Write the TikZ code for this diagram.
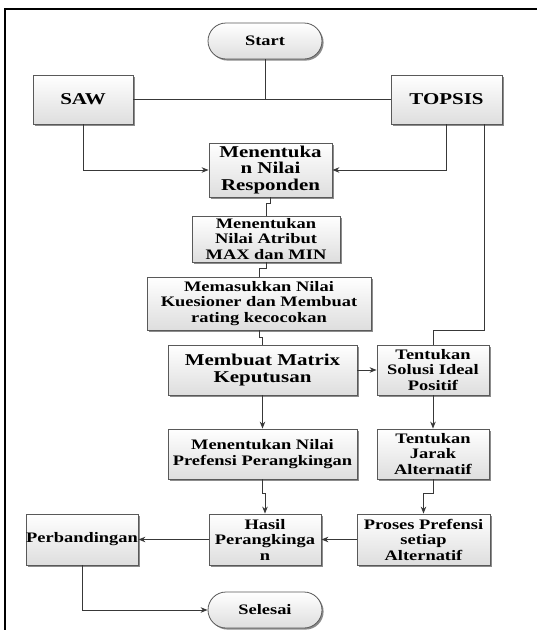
\documentclass[tikz,border=0pt]{standalone}
\usepackage{fontspec}
\setmainfont{Liberation Serif}[FakeStretch=1.27]
\usepackage{tikz}
\usetikzlibrary{positioning,shapes,shadows,arrows.meta}

\newcommand{\smalltxt}{\fontsize{14.5}{15.5}\selectfont\bfseries}
\newcommand{\bigtxt}{\fontsize{16.5}{16.5}\selectfont\bfseries}

\begin{document}
\begin{tikzpicture}[x=1pt,y=-1pt]
\tikzstyle{every node}+=[inner sep=0pt, align=center, font=\smalltxt]
\tikzstyle{box}=[draw=black!65, line width=0.8pt, top color=white, bottom color=black!13, drop shadow={shadow xshift=1.6pt,shadow yshift=-1.6pt,fill=black!45,opacity=1}]
\tikzstyle{term}=[box, rounded rectangle, minimum width=114pt, minimum height=36pt]
\tikzstyle{line}=[draw=black!78, line width=1pt]
\tikzstyle{arr}=[line, -{Stealth[length=7pt,width=5.5pt]}]
\useasboundingbox (0,0) rectangle (537,630);
\draw [line width=1.6pt] (5,630) -- (5,9) -- (537,9);
% terminals
\node [term] (start) at (265,41) {Start};
\node [term] (selesai) at (265,610) {Selesai};
% methods
\node [box, font=\bigtxt, minimum width=100pt, minimum height=49pt] (saw) at (83,99.5) {SAW};
\node [box, font=\bigtxt, minimum width=111pt, minimum height=49pt] (topsis) at (446.5,99.5) {TOPSIS};
% SAW column
\node [box, font=\bigtxt, minimum width=123pt, minimum height=54pt] (resp) at (270.5,170) {Menentuka\\n Nilai\\Responden};
\node [box, minimum width=148pt, minimum height=46pt] (atr) at (266,239) {Menentukan\\Nilai Atribut\\MAX dan MIN};
\node [box, minimum width=224pt, minimum height=53pt] (kues) at (259,303.5) {Memasukkan Nilai\\Kuesioner dan Membuat\\rating kecocokan};
\node [box, font=\bigtxt, minimum width=189pt, minimum height=50pt] (matrix) at (262.5,370) {Membuat Matrix\\Keputusan};
\node [box, minimum width=189pt, minimum height=50pt] (pref) at (262.5,454) {Menentukan Nilai\\Prefensi Perangkingan};
\node [box, minimum width=112pt, minimum height=51pt] (hasil) at (265,539.5) {Hasil\\Perangkinga\\n};
% TOPSIS column
\node [box, minimum width=112pt, minimum height=50pt] (solusi) at (433,370) {Tentukan\\Solusi Ideal\\Positif};
\node [box, minimum width=112pt, minimum height=50pt] (jarak) at (433,454) {Tentukan\\Jarak\\Alternatif};
\node [box, minimum width=133pt, minimum height=51pt] (proses) at (423.5,539.5) {Proses Prefensi\\setiap\\Alternatif};
\node [box, minimum width=112pt, minimum height=51pt] (perb) at (82,539.5) {Perbandingan};
% connectors
\draw [line] (start.south) -- (start.south |- saw.east);
\draw [line] (saw.east) -- (topsis.west);
\draw [arr] (saw.south) |- (resp.west);
\draw [arr] (topsis.south) |- (resp.east);
\draw [line] ([xshift=37.5pt]topsis.south) |- ([yshift=14pt]solusi.north) -- (solusi.north);
\draw [line] (resp.south) -- ++(0,-6pt) -| (atr.north);
\draw [line] (atr.south) -- ++(0,-6pt) -| (kues.north);
\draw [line] (kues.south) -- ++(0,-7pt) -| (matrix.north);
\draw [arr] (matrix.east) -- (solusi.west);
\draw [arr] (matrix.south) -- (pref.north);
\draw [arr] (solusi.south) -- (jarak.north);
\draw [arr] (pref.south) -- ++(0,-14pt) -| (hasil.north);
\draw [arr] (jarak.south) -- ++(0,-14pt) -| (proses.north);
\draw [arr] (proses.west) -- (hasil.east);
\draw [arr] (hasil.west) -- (perb.east);
\draw [arr] (perb.south) |- (selesai.west);
\end{tikzpicture}
\end{document}
